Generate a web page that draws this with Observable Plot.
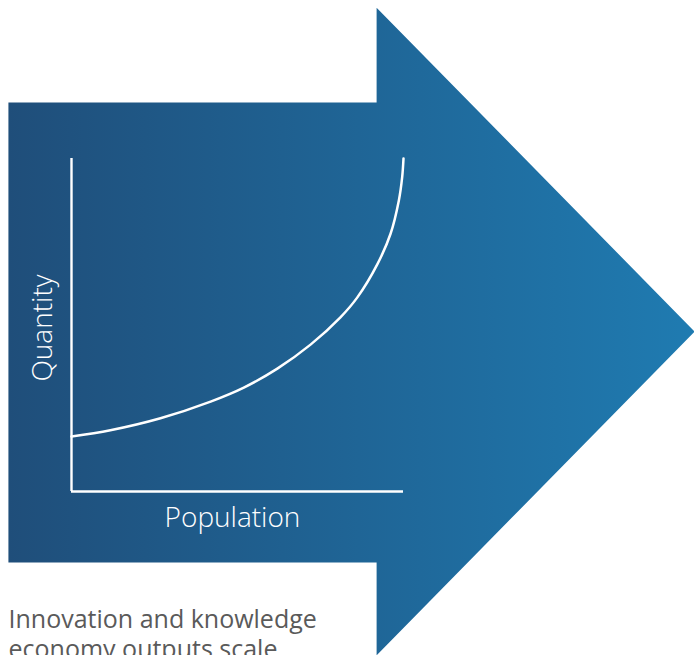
<!DOCTYPE html>
<html>
<head>
<meta charset="utf-8">
<script src="https://cdn.jsdelivr.net/npm/d3@7"></script>
<script src="https://cdn.jsdelivr.net/npm/@observablehq/plot@0.6"></script>
<style>
  html, body { margin: 0; padding: 0; background: #ffffff; }
  #chart svg { display: block; }
</style>
</head>
<body>
<div id="chart"></div>
<script>
// Curve: Quantity as a function of Population (normalised 0..1)
const population = [0, 0.117, 0.268, 0.419, 0.519, 0.620, 0.720, 0.810, 0.861, 0.921, 0.961, 0.986, 0.996, 1.0];
const quantity   = [0.165, 0.184, 0.220, 0.270, 0.312, 0.369, 0.441, 0.523, 0.583, 0.682, 0.774, 0.874, 0.944, 1.0];

// Background arrow outline, in the same data units
const arrowX = [-0.19, 0.919, 0.919, 1.877, 0.919, 0.919, -0.19];
const arrowY = [1.168, 1.168, 1.453, 0.480, -0.492, -0.213, -0.213];

const xLabel = "Population";
const yLabel = "Quantity";
const caption = "Innovation and knowledge\neconomy outputs scale";

const curve = population.map((p, i) => ({p, q: quantity[i]}));
const arrow = arrowX.map((x, i) => ({x, y: arrowY[i]}));

const plot = Plot.plot({
  width: 694,
  height: 655,
  marginLeft: 71,
  marginRight: 291,
  marginTop: 158,
  marginBottom: 164,
  x: {domain: [0, 1], axis: null},
  y: {domain: [0, 1], axis: null},
  style: {background: "#ffffff", overflow: "hidden"},
  marks: [
    Plot.line(arrow, {x: "x", y: "y", fill: "url(#arrowGrad)", stroke: "none", clip: false}),
    Plot.ruleX([0], {y1: 0, y2: 1, stroke: "#ffffff", strokeWidth: 2.4}),
    Plot.ruleY([0], {x1: 0, x2: 1, stroke: "#ffffff", strokeWidth: 2.4}),
    Plot.line(curve, {x: "p", y: "q", curve: "catmull-rom", stroke: "#ffffff", strokeWidth: 2.5}),
    Plot.text([xLabel], {frameAnchor: "bottom", dx: -5, dy: 27, lineAnchor: "middle", textAnchor: "middle",
      fill: "#ffffff", fontSize: 28, fontFamily: "Open Sans", fontWeight: 300,
      letterSpacing: "1.3px"}),
    Plot.text([yLabel], {frameAnchor: "left", rotate: -90, dx: -28, dy: 3, lineAnchor: "middle", textAnchor: "middle",
      fill: "#ffffff", fontSize: 28, fontFamily: "Open Sans", fontWeight: 300,
      letterSpacing: "1.3px"}),
    Plot.text([caption], {frameAnchor: "bottom-left", dx: -63, dy: 115, lineAnchor: "top",
      textAnchor: "start", lineHeight: 1.2, fill: "#5a5a5a", fontSize: 25, fontFamily: "Open Sans", fontWeight: 400,
      letterSpacing: "0.2px"})
  ]
});

// gradient definition for the arrow
const svgNS = "http://www.w3.org/2000/svg";
const defs = document.createElementNS(svgNS, "defs");
defs.innerHTML = `<linearGradient id="arrowGrad" gradientUnits="userSpaceOnUse" x1="8" y1="0" x2="694" y2="0">
  <stop offset="0" stop-color="#1f4e7a"/>
  <stop offset="1" stop-color="#1f7bb1"/>
</linearGradient>`;
plot.insertBefore(defs, plot.firstChild);

document.getElementById("chart").appendChild(plot);
</script>
</body>
</html>
